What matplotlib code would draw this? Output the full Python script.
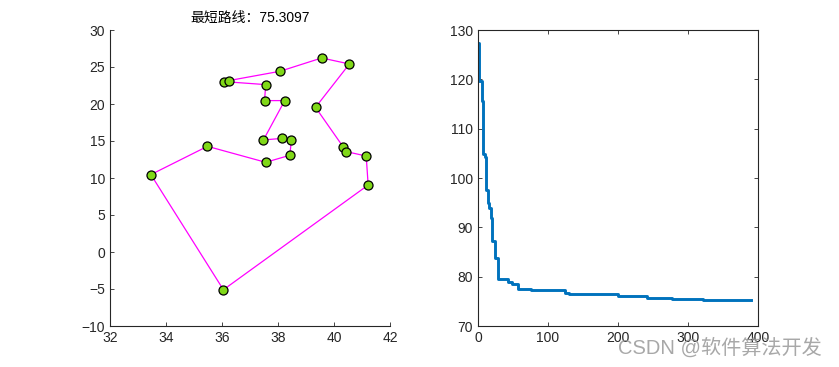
import matplotlib
matplotlib.use('Agg')
import matplotlib.pyplot as plt

plt.rcParams['font.family'] = ['Liberation Sans', 'Noto Sans CJK SC', 'DejaVu Sans']

# 路线顺序中的城市坐标
route_x = [33.46, 35.48, 37.56, 38.42, 38.48, 38.16, 37.48, 38.24, 37.52, 37.56,
           36.06, 36.24, 38.07, 39.56, 40.55, 39.34, 40.33, 40.43, 41.15, 41.22, 36.05, 33.46]
route_y = [10.46, 14.28, 12.12, 13.07, 15.09, 15.36, 15.14, 20.46, 20.46, 22.62,
           23.03, 23.16, 24.42, 26.22, 25.41, 19.55, 14.19, 13.57, 12.97, 9.05, -5.1, 10.46]
best_len = 75.3097

# 迭代收敛曲线（阶梯变化点）
iters = [0, 1.5, 5, 7.8, 10.5, 12, 14.3, 16, 18.9, 20.5, 24.5, 28, 43, 48, 57, 76, 124, 130, 200, 242, 277, 322, 390]
best = [127.3, 119.6, 115.7, 104.9, 104.3, 97.6, 94.9, 94.0, 91.8, 87.2, 83.8, 79.43, 78.9, 78.56, 77.6, 77.35, 76.75, 76.4, 76.0, 75.66, 75.45, 75.31, 75.31]

fig = plt.figure(figsize=(8.39, 3.67), dpi=100)
ax1 = fig.add_axes([110/839, 1-326/367, 280/839, 296/367])
ax2 = fig.add_axes([478/839, 1-326/367, 280/839, 296/367])

ax1.plot(route_x, route_y, '-', color=(1, 0, 1), lw=0.9, zorder=2)
ax1.plot(route_x[:-1], route_y[:-1], 'o', mfc='#80D818', mec='k', mew=0.9, ms=6.5, zorder=3)
ax1.set_xlim(32, 42)
ax1.set_ylim(-10, 30)
ax1.set_xticks(range(32, 43, 2))
ax1.set_yticks(range(-10, 31, 5))
ax1.spines['top'].set_visible(False)
ax1.spines['right'].set_visible(False)
ax1.set_title('最短路线：' + str(best_len), fontsize=10, pad=6)

ax2.step(iters, best, where='post', color=(0, 0.447, 0.741), lw=2.1)
ax2.set_xlim(0, 400)
ax2.set_ylim(70, 130)
ax2.set_xticks(range(0, 401, 100))
ax2.set_yticks(range(70, 131, 10))

for ax in (ax1, ax2):
    ax.tick_params(direction='in', length=3, width=0.6, labelsize=10, top=(ax is ax2), right=(ax is ax2),
                   colors='#262626', labelcolor='#262626')
    for s in ax.spines.values():
        s.set_linewidth(0.8)
        s.set_color('#262626')

fig.text(822/839, 1-348/367, 'CSDN @软件算法开发', ha='right', va='center', fontsize=14.5,
         color='#999999', alpha=0.85, family=['Liberation Sans', 'Noto Sans CJK SC'])

fig.savefig('out.png', dpi=100)
